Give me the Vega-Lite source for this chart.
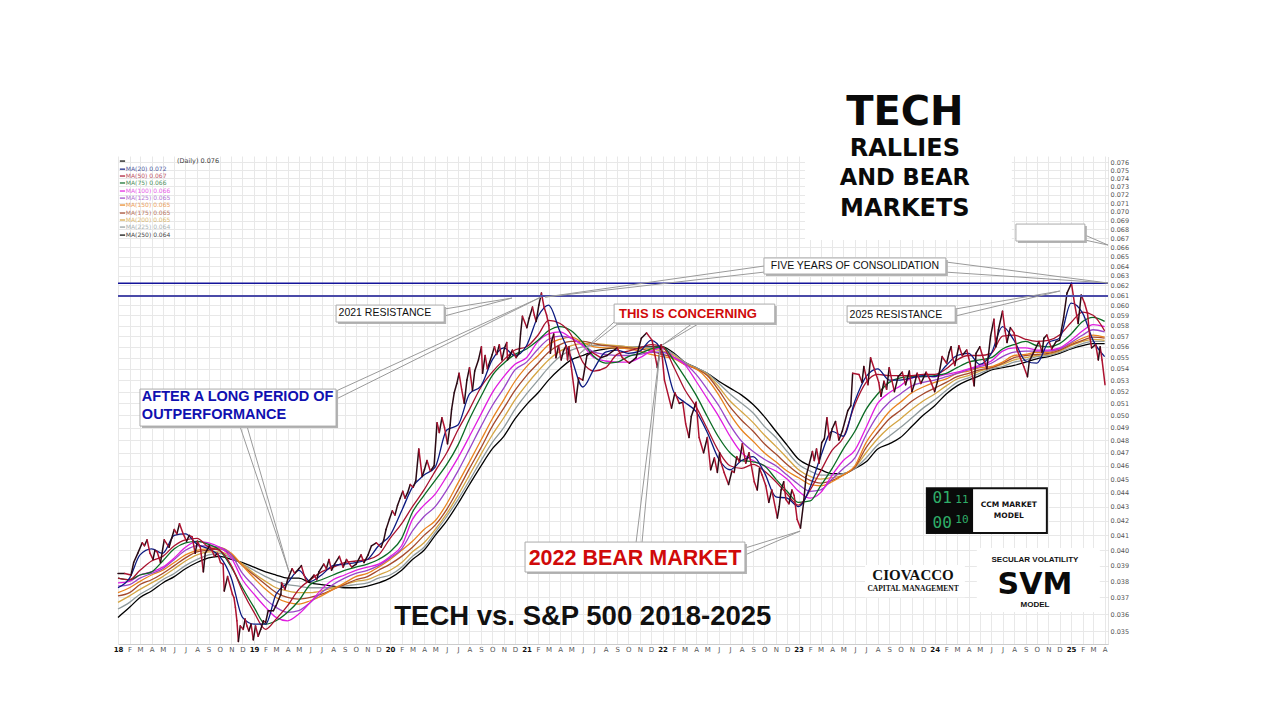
{"$schema":"https://vega.github.io/schema/vega-lite/v6.json","width":990,"height":488,"autosize":{"type":"none"},"padding":{"left":118,"top":156,"right":172,"bottom":76},"background":"white","config":{"view":{"stroke":null},"text":{"font":"Liberation Sans"}},
"datasets":{
"ma":[
{"d":"2018-01-01","MA20":0.0376,"MA50":0.0382,"MA75":0.0382,"MA100":0.0379,"MA125":0.0377,"MA150":0.0373,"MA175":0.0371,"MA200":0.0367,"MA225":0.0363,"MA250":0.0358},
{"d":"2018-02-01","MA20":0.0382,"MA50":0.0381,"MA75":0.0381,"MA100":0.0380,"MA125":0.0378,"MA150":0.0376,"MA175":0.0373,"MA200":0.0371,"MA225":0.0367,"MA250":0.0364},
{"d":"2018-03-01","MA20":0.0397,"MA50":0.0387,"MA75":0.0384,"MA100":0.0384,"MA125":0.0382,"MA150":0.0380,"MA175":0.0378,"MA200":0.0375,"MA225":0.0372,"MA250":0.0370},
{"d":"2018-04-01","MA20":0.0401,"MA50":0.0393,"MA75":0.0386,"MA100":0.0386,"MA125":0.0385,"MA150":0.0384,"MA175":0.0381,"MA200":0.0379,"MA225":0.0376,"MA250":0.0374},
{"d":"2018-05-01","MA20":0.0398,"MA50":0.0396,"MA75":0.0393,"MA100":0.0389,"MA125":0.0388,"MA150":0.0387,"MA175":0.0385,"MA200":0.0383,"MA225":0.0381,"MA250":0.0379},
{"d":"2018-06-01","MA20":0.0410,"MA50":0.0403,"MA75":0.0401,"MA100":0.0395,"MA125":0.0394,"MA150":0.0392,"MA175":0.0390,"MA200":0.0388,"MA225":0.0385,"MA250":0.0383},
{"d":"2018-07-01","MA20":0.0411,"MA50":0.0407,"MA75":0.0405,"MA100":0.0402,"MA125":0.0400,"MA150":0.0397,"MA175":0.0395,"MA200":0.0393,"MA225":0.0390,"MA250":0.0388},
{"d":"2018-08-01","MA20":0.0404,"MA50":0.0408,"MA75":0.0406,"MA100":0.0406,"MA125":0.0403,"MA150":0.0400,"MA175":0.0399,"MA200":0.0397,"MA225":0.0394,"MA250":0.0392},
{"d":"2018-09-01","MA20":0.0401,"MA50":0.0402,"MA75":0.0404,"MA100":0.0405,"MA125":0.0403,"MA150":0.0401,"MA175":0.0400,"MA200":0.0399,"MA225":0.0397,"MA250":0.0395},
{"d":"2018-10-01","MA20":0.0396,"MA50":0.0400,"MA75":0.0400,"MA100":0.0402,"MA125":0.0402,"MA150":0.0402,"MA175":0.0401,"MA200":0.0399,"MA225":0.0398,"MA250":0.0396},
{"d":"2018-11-01","MA20":0.0382,"MA50":0.0390,"MA75":0.0389,"MA100":0.0395,"MA125":0.0397,"MA150":0.0398,"MA175":0.0397,"MA200":0.0396,"MA225":0.0395,"MA250":0.0394},
{"d":"2018-12-01","MA20":0.0358,"MA50":0.0374,"MA75":0.0376,"MA100":0.0381,"MA125":0.0385,"MA150":0.0390,"MA175":0.0390,"MA200":0.0391,"MA225":0.0391,"MA250":0.0392},
{"d":"2019-01-01","MA20":0.0354,"MA50":0.0361,"MA75":0.0364,"MA100":0.0372,"MA125":0.0377,"MA150":0.0382,"MA175":0.0384,"MA200":0.0385,"MA225":0.0387,"MA250":0.0389},
{"d":"2019-02-01","MA20":0.0354,"MA50":0.0351,"MA75":0.0354,"MA100":0.0364,"MA125":0.0369,"MA150":0.0375,"MA175":0.0378,"MA200":0.0380,"MA225":0.0383,"MA250":0.0386},
{"d":"2019-03-01","MA20":0.0372,"MA50":0.0357,"MA75":0.0356,"MA100":0.0358,"MA125":0.0364,"MA150":0.0370,"MA175":0.0373,"MA200":0.0376,"MA225":0.0380,"MA250":0.0384},
{"d":"2019-04-01","MA20":0.0379,"MA50":0.0365,"MA75":0.0361,"MA100":0.0356,"MA125":0.0361,"MA150":0.0367,"MA175":0.0370,"MA200":0.0374,"MA225":0.0378,"MA250":0.0382},
{"d":"2019-05-01","MA20":0.0387,"MA50":0.0375,"MA75":0.0368,"MA100":0.0360,"MA125":0.0362,"MA150":0.0366,"MA175":0.0369,"MA200":0.0373,"MA225":0.0377,"MA250":0.0382},
{"d":"2019-06-01","MA20":0.0380,"MA50":0.0381,"MA75":0.0378,"MA100":0.0367,"MA125":0.0367,"MA150":0.0368,"MA175":0.0370,"MA200":0.0373,"MA225":0.0376,"MA250":0.0379},
{"d":"2019-07-01","MA20":0.0384,"MA50":0.0386,"MA75":0.0381,"MA100":0.0375,"MA125":0.0373,"MA150":0.0371,"MA175":0.0372,"MA200":0.0374,"MA225":0.0376,"MA250":0.0378},
{"d":"2019-08-01","MA20":0.0390,"MA50":0.0389,"MA75":0.0384,"MA100":0.0381,"MA125":0.0378,"MA150":0.0375,"MA175":0.0375,"MA200":0.0376,"MA225":0.0376,"MA250":0.0377},
{"d":"2019-09-01","MA20":0.0391,"MA50":0.0392,"MA75":0.0387,"MA100":0.0384,"MA125":0.0382,"MA150":0.0379,"MA175":0.0378,"MA200":0.0378,"MA225":0.0377,"MA250":0.0376},
{"d":"2019-10-01","MA20":0.0392,"MA50":0.0393,"MA75":0.0389,"MA100":0.0387,"MA125":0.0385,"MA150":0.0383,"MA175":0.0381,"MA200":0.0380,"MA225":0.0378,"MA250":0.0376},
{"d":"2019-11-01","MA20":0.0394,"MA50":0.0394,"MA75":0.0391,"MA100":0.0389,"MA125":0.0387,"MA150":0.0385,"MA175":0.0383,"MA200":0.0381,"MA225":0.0379,"MA250":0.0377},
{"d":"2019-12-01","MA20":0.0403,"MA50":0.0397,"MA75":0.0394,"MA100":0.0391,"MA125":0.0390,"MA150":0.0389,"MA175":0.0387,"MA200":0.0384,"MA225":0.0382,"MA250":0.0379},
{"d":"2020-01-01","MA20":0.0410,"MA50":0.0408,"MA75":0.0399,"MA100":0.0396,"MA125":0.0395,"MA150":0.0394,"MA175":0.0391,"MA200":0.0387,"MA225":0.0384,"MA250":0.0382},
{"d":"2020-02-01","MA20":0.0427,"MA50":0.0418,"MA75":0.0408,"MA100":0.0403,"MA125":0.0401,"MA150":0.0400,"MA175":0.0396,"MA200":0.0392,"MA225":0.0389,"MA250":0.0387},
{"d":"2020-03-01","MA20":0.0444,"MA50":0.0430,"MA75":0.0426,"MA100":0.0421,"MA125":0.0413,"MA150":0.0406,"MA175":0.0402,"MA200":0.0399,"MA225":0.0396,"MA250":0.0394},
{"d":"2020-04-01","MA20":0.0453,"MA50":0.0442,"MA75":0.0438,"MA100":0.0431,"MA125":0.0423,"MA150":0.0414,"MA175":0.0410,"MA200":0.0405,"MA225":0.0402,"MA250":0.0400},
{"d":"2020-05-01","MA20":0.0459,"MA50":0.0456,"MA75":0.0449,"MA100":0.0439,"MA125":0.0430,"MA150":0.0420,"MA175":0.0417,"MA200":0.0414,"MA225":0.0412,"MA250":0.0410},
{"d":"2020-06-01","MA20":0.0488,"MA50":0.0470,"MA75":0.0461,"MA100":0.0452,"MA125":0.0442,"MA150":0.0432,"MA175":0.0428,"MA200":0.0425,"MA225":0.0423,"MA250":0.0420},
{"d":"2020-07-01","MA20":0.0492,"MA50":0.0488,"MA75":0.0476,"MA100":0.0466,"MA125":0.0456,"MA150":0.0447,"MA175":0.0442,"MA200":0.0438,"MA225":0.0435,"MA250":0.0432},
{"d":"2020-08-01","MA20":0.0518,"MA50":0.0505,"MA75":0.0497,"MA100":0.0483,"MA125":0.0473,"MA150":0.0463,"MA175":0.0458,"MA200":0.0453,"MA225":0.0449,"MA250":0.0446},
{"d":"2020-09-01","MA20":0.0525,"MA50":0.0524,"MA75":0.0516,"MA100":0.0501,"MA125":0.0491,"MA150":0.0480,"MA175":0.0474,"MA200":0.0469,"MA225":0.0464,"MA250":0.0460},
{"d":"2020-10-01","MA20":0.0548,"MA50":0.0537,"MA75":0.0534,"MA100":0.0519,"MA125":0.0508,"MA150":0.0497,"MA175":0.0491,"MA200":0.0484,"MA225":0.0478,"MA250":0.0473},
{"d":"2020-11-01","MA20":0.0559,"MA50":0.0548,"MA75":0.0545,"MA100":0.0533,"MA125":0.0523,"MA150":0.0513,"MA175":0.0506,"MA200":0.0498,"MA225":0.0490,"MA250":0.0483},
{"d":"2020-12-01","MA20":0.0552,"MA50":0.0557,"MA75":0.0553,"MA100":0.0544,"MA125":0.0539,"MA150":0.0529,"MA175":0.0521,"MA200":0.0513,"MA225":0.0505,"MA250":0.0497},
{"d":"2021-01-01","MA20":0.0561,"MA50":0.0560,"MA75":0.0558,"MA100":0.0550,"MA125":0.0546,"MA150":0.0542,"MA175":0.0534,"MA200":0.0526,"MA225":0.0518,"MA250":0.0509},
{"d":"2021-02-01","MA20":0.0589,"MA50":0.0571,"MA75":0.0566,"MA100":0.0565,"MA125":0.0558,"MA150":0.0552,"MA175":0.0545,"MA200":0.0538,"MA225":0.0530,"MA250":0.0519},
{"d":"2021-03-01","MA20":0.0600,"MA50":0.0585,"MA75":0.0575,"MA100":0.0572,"MA125":0.0567,"MA150":0.0562,"MA175":0.0555,"MA200":0.0548,"MA225":0.0541,"MA250":0.0530},
{"d":"2021-04-01","MA20":0.0574,"MA50":0.0582,"MA75":0.0579,"MA100":0.0574,"MA125":0.0570,"MA150":0.0567,"MA175":0.0562,"MA200":0.0556,"MA225":0.0551,"MA250":0.0540},
{"d":"2021-05-01","MA20":0.0550,"MA50":0.0571,"MA75":0.0575,"MA100":0.0568,"MA125":0.0568,"MA150":0.0569,"MA175":0.0565,"MA200":0.0561,"MA225":0.0557,"MA250":0.0548},
{"d":"2021-06-01","MA20":0.0524,"MA50":0.0546,"MA75":0.0564,"MA100":0.0561,"MA125":0.0562,"MA150":0.0564,"MA175":0.0565,"MA200":0.0563,"MA225":0.0560,"MA250":0.0552},
{"d":"2021-07-01","MA20":0.0540,"MA50":0.0538,"MA75":0.0551,"MA100":0.0550,"MA125":0.0555,"MA150":0.0560,"MA175":0.0563,"MA200":0.0563,"MA225":0.0561,"MA250":0.0556},
{"d":"2021-08-01","MA20":0.0555,"MA50":0.0541,"MA75":0.0545,"MA100":0.0547,"MA125":0.0553,"MA150":0.0559,"MA175":0.0561,"MA200":0.0562,"MA225":0.0561,"MA250":0.0558},
{"d":"2021-09-01","MA20":0.0557,"MA50":0.0553,"MA75":0.0546,"MA100":0.0546,"MA125":0.0552,"MA150":0.0559,"MA175":0.0560,"MA200":0.0561,"MA225":0.0561,"MA250":0.0559},
{"d":"2021-10-01","MA20":0.0554,"MA50":0.0556,"MA75":0.0551,"MA100":0.0546,"MA125":0.0552,"MA150":0.0558,"MA175":0.0559,"MA200":0.0560,"MA225":0.0560,"MA250":0.0559},
{"d":"2021-11-01","MA20":0.0556,"MA50":0.0559,"MA75":0.0554,"MA100":0.0550,"MA125":0.0553,"MA150":0.0556,"MA175":0.0558,"MA200":0.0559,"MA225":0.0560,"MA250":0.0560},
{"d":"2021-12-01","MA20":0.0566,"MA50":0.0562,"MA75":0.0558,"MA100":0.0556,"MA125":0.0555,"MA150":0.0553,"MA175":0.0556,"MA200":0.0558,"MA225":0.0559,"MA250":0.0560},
{"d":"2022-01-01","MA20":0.0555,"MA50":0.0560,"MA75":0.0560,"MA100":0.0559,"MA125":0.0555,"MA150":0.0551,"MA175":0.0553,"MA200":0.0556,"MA225":0.0558,"MA250":0.0560},
{"d":"2022-02-01","MA20":0.0519,"MA50":0.0541,"MA75":0.0547,"MA100":0.0550,"MA125":0.0550,"MA150":0.0549,"MA175":0.0550,"MA200":0.0552,"MA225":0.0553,"MA250":0.0554},
{"d":"2022-03-01","MA20":0.0511,"MA50":0.0522,"MA75":0.0533,"MA100":0.0544,"MA125":0.0545,"MA150":0.0544,"MA175":0.0544,"MA200":0.0545,"MA225":0.0546,"MA250":0.0546},
{"d":"2022-04-01","MA20":0.0503,"MA50":0.0507,"MA75":0.0517,"MA100":0.0529,"MA125":0.0535,"MA150":0.0540,"MA175":0.0540,"MA200":0.0540,"MA225":0.0541,"MA250":0.0541},
{"d":"2022-05-01","MA20":0.0486,"MA50":0.0489,"MA75":0.0499,"MA100":0.0514,"MA125":0.0522,"MA150":0.0531,"MA175":0.0534,"MA200":0.0535,"MA225":0.0536,"MA250":0.0536},
{"d":"2022-06-01","MA20":0.0465,"MA50":0.0471,"MA75":0.0482,"MA100":0.0499,"MA125":0.0508,"MA150":0.0517,"MA175":0.0521,"MA200":0.0524,"MA225":0.0527,"MA250":0.0529},
{"d":"2022-07-01","MA20":0.0457,"MA50":0.0460,"MA75":0.0470,"MA100":0.0483,"MA125":0.0492,"MA150":0.0501,"MA175":0.0507,"MA200":0.0512,"MA225":0.0518,"MA250":0.0523},
{"d":"2022-08-01","MA20":0.0464,"MA50":0.0458,"MA75":0.0464,"MA100":0.0470,"MA125":0.0479,"MA150":0.0488,"MA175":0.0496,"MA200":0.0503,"MA225":0.0510,"MA250":0.0517},
{"d":"2022-09-01","MA20":0.0467,"MA50":0.0461,"MA75":0.0463,"MA100":0.0464,"MA125":0.0471,"MA150":0.0479,"MA175":0.0487,"MA200":0.0494,"MA225":0.0502,"MA250":0.0509},
{"d":"2022-10-01","MA20":0.0455,"MA50":0.0456,"MA75":0.0460,"MA100":0.0460,"MA125":0.0465,"MA150":0.0470,"MA175":0.0477,"MA200":0.0484,"MA225":0.0491,"MA250":0.0499},
{"d":"2022-11-01","MA20":0.0437,"MA50":0.0448,"MA75":0.0450,"MA100":0.0456,"MA125":0.0460,"MA150":0.0463,"MA175":0.0469,"MA200":0.0475,"MA225":0.0482,"MA250":0.0487},
{"d":"2022-12-01","MA20":0.0436,"MA50":0.0439,"MA75":0.0441,"MA100":0.0450,"MA125":0.0453,"MA150":0.0456,"MA175":0.0461,"MA200":0.0466,"MA225":0.0471,"MA250":0.0476},
{"d":"2023-01-01","MA20":0.0430,"MA50":0.0431,"MA75":0.0433,"MA100":0.0441,"MA125":0.0446,"MA150":0.0451,"MA175":0.0454,"MA200":0.0457,"MA225":0.0461,"MA250":0.0465},
{"d":"2023-02-01","MA20":0.0444,"MA50":0.0442,"MA75":0.0434,"MA100":0.0436,"MA125":0.0441,"MA150":0.0446,"MA175":0.0449,"MA200":0.0452,"MA225":0.0456,"MA250":0.0460},
{"d":"2023-03-01","MA20":0.0467,"MA50":0.0456,"MA75":0.0445,"MA100":0.0440,"MA125":0.0442,"MA150":0.0445,"MA175":0.0447,"MA200":0.0450,"MA225":0.0453,"MA250":0.0457},
{"d":"2023-04-01","MA20":0.0487,"MA50":0.0472,"MA75":0.0458,"MA100":0.0453,"MA125":0.0450,"MA150":0.0448,"MA175":0.0449,"MA200":0.0451,"MA225":0.0453,"MA250":0.0454},
{"d":"2023-05-01","MA20":0.0483,"MA50":0.0482,"MA75":0.0473,"MA100":0.0464,"MA125":0.0458,"MA150":0.0453,"MA175":0.0453,"MA200":0.0453,"MA225":0.0454,"MA250":0.0454},
{"d":"2023-06-01","MA20":0.0512,"MA50":0.0509,"MA75":0.0487,"MA100":0.0472,"MA125":0.0466,"MA150":0.0460,"MA175":0.0459,"MA200":0.0459,"MA225":0.0458,"MA250":0.0458},
{"d":"2023-07-01","MA20":0.0533,"MA50":0.0528,"MA75":0.0505,"MA100":0.0490,"MA125":0.0484,"MA150":0.0478,"MA175":0.0474,"MA200":0.0470,"MA225":0.0466,"MA250":0.0463},
{"d":"2023-08-01","MA20":0.0540,"MA50":0.0535,"MA75":0.0518,"MA100":0.0510,"MA125":0.0500,"MA150":0.0491,"MA175":0.0486,"MA200":0.0481,"MA225":0.0476,"MA250":0.0473},
{"d":"2023-09-01","MA20":0.0530,"MA50":0.0534,"MA75":0.0528,"MA100":0.0519,"MA125":0.0511,"MA150":0.0503,"MA175":0.0497,"MA200":0.0490,"MA225":0.0483,"MA250":0.0477},
{"d":"2023-10-01","MA20":0.0530,"MA50":0.0534,"MA75":0.0532,"MA100":0.0525,"MA125":0.0518,"MA150":0.0511,"MA175":0.0504,"MA200":0.0497,"MA225":0.0490,"MA250":0.0482},
{"d":"2023-11-01","MA20":0.0532,"MA50":0.0534,"MA75":0.0533,"MA100":0.0532,"MA125":0.0525,"MA150":0.0519,"MA175":0.0512,"MA200":0.0505,"MA225":0.0498,"MA250":0.0491},
{"d":"2023-12-01","MA20":0.0534,"MA50":0.0535,"MA75":0.0533,"MA100":0.0533,"MA125":0.0528,"MA150":0.0524,"MA175":0.0518,"MA200":0.0512,"MA225":0.0506,"MA250":0.0500},
{"d":"2024-01-01","MA20":0.0533,"MA50":0.0535,"MA75":0.0534,"MA100":0.0533,"MA125":0.0530,"MA150":0.0528,"MA175":0.0523,"MA200":0.0518,"MA225":0.0513,"MA250":0.0508},
{"d":"2024-02-01","MA20":0.0543,"MA50":0.0540,"MA75":0.0536,"MA100":0.0535,"MA125":0.0533,"MA150":0.0531,"MA175":0.0528,"MA200":0.0525,"MA225":0.0521,"MA250":0.0518},
{"d":"2024-03-01","MA20":0.0552,"MA50":0.0548,"MA75":0.0541,"MA100":0.0537,"MA125":0.0536,"MA150":0.0536,"MA175":0.0533,"MA200":0.0531,"MA225":0.0528,"MA250":0.0525},
{"d":"2024-04-01","MA20":0.0554,"MA50":0.0552,"MA75":0.0546,"MA100":0.0540,"MA125":0.0539,"MA150":0.0538,"MA175":0.0536,"MA200":0.0534,"MA225":0.0532,"MA250":0.0530},
{"d":"2024-05-01","MA20":0.0544,"MA50":0.0552,"MA75":0.0548,"MA100":0.0543,"MA125":0.0542,"MA150":0.0541,"MA175":0.0539,"MA200":0.0538,"MA225":0.0536,"MA250":0.0534},
{"d":"2024-06-01","MA20":0.0554,"MA50":0.0554,"MA75":0.0550,"MA100":0.0547,"MA125":0.0545,"MA150":0.0542,"MA175":0.0541,"MA200":0.0541,"MA225":0.0540,"MA250":0.0539},
{"d":"2024-07-01","MA20":0.0579,"MA50":0.0570,"MA75":0.0558,"MA100":0.0556,"MA125":0.0551,"MA150":0.0546,"MA175":0.0545,"MA200":0.0544,"MA225":0.0542,"MA250":0.0541},
{"d":"2024-08-01","MA20":0.0566,"MA50":0.0571,"MA75":0.0562,"MA100":0.0559,"MA125":0.0555,"MA150":0.0552,"MA175":0.0550,"MA200":0.0548,"MA225":0.0546,"MA250":0.0543},
{"d":"2024-09-01","MA20":0.0547,"MA50":0.0567,"MA75":0.0565,"MA100":0.0559,"MA125":0.0556,"MA150":0.0553,"MA175":0.0552,"MA200":0.0550,"MA225":0.0548,"MA250":0.0546},
{"d":"2024-10-01","MA20":0.0545,"MA50":0.0565,"MA75":0.0561,"MA100":0.0557,"MA125":0.0556,"MA150":0.0555,"MA175":0.0553,"MA200":0.0552,"MA225":0.0551,"MA250":0.0549},
{"d":"2024-11-01","MA20":0.0564,"MA50":0.0566,"MA75":0.0560,"MA100":0.0557,"MA125":0.0556,"MA150":0.0555,"MA175":0.0554,"MA200":0.0553,"MA225":0.0552,"MA250":0.0551},
{"d":"2024-12-01","MA20":0.0568,"MA50":0.0571,"MA75":0.0563,"MA100":0.0559,"MA125":0.0558,"MA150":0.0558,"MA175":0.0557,"MA200":0.0556,"MA225":0.0555,"MA250":0.0554},
{"d":"2025-01-01","MA20":0.0602,"MA50":0.0583,"MA75":0.0572,"MA100":0.0566,"MA125":0.0564,"MA150":0.0563,"MA175":0.0562,"MA200":0.0561,"MA225":0.0559,"MA250":0.0558},
{"d":"2025-02-01","MA20":0.0592,"MA50":0.0593,"MA75":0.0584,"MA100":0.0575,"MA125":0.0571,"MA150":0.0568,"MA175":0.0566,"MA200":0.0565,"MA225":0.0563,"MA250":0.0561},
{"d":"2025-03-01","MA20":0.0566,"MA50":0.0590,"MA75":0.0588,"MA100":0.0581,"MA125":0.0576,"MA150":0.0571,"MA175":0.0569,"MA200":0.0567,"MA225":0.0565,"MA250":0.0563},
{"d":"2025-04-01","MA20":0.0551,"MA50":0.0575,"MA75":0.0584,"MA100":0.0579,"MA125":0.0574,"MA150":0.0569,"MA175":0.0568,"MA200":0.0566,"MA225":0.0565,"MA250":0.0563}
],
"daily":[
{"d":"2018-01-01","v":0.0385},{"d":"2018-01-19","v":0.0385},{"d":"2018-02-05","v":0.0384},{"d":"2018-02-12","v":0.0392},{"d":"2018-02-23","v":0.0398},{"d":"2018-03-07","v":0.0405},{"d":"2018-03-20","v":0.0407},{"d":"2018-03-28","v":0.0398},{"d":"2018-04-16","v":0.0399},{"d":"2018-04-25","v":0.0392},{"d":"2018-05-05","v":0.0407},{"d":"2018-05-18","v":0.0402},{"d":"2018-06-01","v":0.0414},{"d":"2018-06-15","v":0.0418},{"d":"2018-06-25","v":0.0411},{"d":"2018-07-04","v":0.0406},{"d":"2018-07-19","v":0.0409},{"d":"2018-07-27","v":0.0398},{"d":"2018-08-02","v":0.0406},{"d":"2018-08-10","v":0.0402},{"d":"2018-08-18","v":0.0386},{"d":"2018-08-23","v":0.0398},{"d":"2018-09-10","v":0.0400},{"d":"2018-09-25","v":0.0398},{"d":"2018-10-03","v":0.0392},{"d":"2018-10-10","v":0.0391},{"d":"2018-10-13","v":0.0374},{"d":"2018-10-22","v":0.0383},{"d":"2018-11-04","v":0.0372},{"d":"2018-11-12","v":0.0364},{"d":"2018-11-20","v":0.0344},{"d":"2018-11-25","v":0.0353},{"d":"2018-12-08","v":0.0357},{"d":"2018-12-18","v":0.0350},{"d":"2018-12-30","v":0.0345},{"d":"2019-01-05","v":0.0353},{"d":"2019-01-19","v":0.0351},{"d":"2019-02-01","v":0.0355},{"d":"2019-02-08","v":0.0362},{"d":"2019-02-22","v":0.0362},{"d":"2019-03-14","v":0.0372},{"d":"2019-03-16","v":0.0379},{"d":"2019-04-01","v":0.0381},{"d":"2019-04-13","v":0.0388},{"d":"2019-05-01","v":0.0388},{"d":"2019-05-15","v":0.0384},{"d":"2019-05-28","v":0.0380},{"d":"2019-06-11","v":0.0384},{"d":"2019-06-24","v":0.0386},{"d":"2019-07-07","v":0.0391},{"d":"2019-07-21","v":0.0394},{"d":"2019-07-28","v":0.0387},{"d":"2019-08-18","v":0.0396},{"d":"2019-09-06","v":0.0394},{"d":"2019-10-02","v":0.0391},{"d":"2019-10-15","v":0.0397},{"d":"2019-10-23","v":0.0392},{"d":"2019-11-12","v":0.0403},{"d":"2019-11-25","v":0.0405},{"d":"2019-12-08","v":0.0402},{"d":"2019-12-21","v":0.0414},{"d":"2019-12-30","v":0.0421},{"d":"2020-01-07","v":0.0427},{"d":"2020-01-21","v":0.0431},{"d":"2020-02-04","v":0.0441},{"d":"2020-02-17","v":0.0440},{"d":"2020-03-10","v":0.0449},{"d":"2020-03-18","v":0.0473},{"d":"2020-03-27","v":0.0452},{"d":"2020-04-09","v":0.0464},{"d":"2020-04-28","v":0.0460},{"d":"2020-05-06","v":0.0494},{"d":"2020-05-19","v":0.0498},{"d":"2020-06-03","v":0.0477},{"d":"2020-06-21","v":0.0519},{"d":"2020-07-04","v":0.0536},{"d":"2020-07-18","v":0.0510},{"d":"2020-08-01","v":0.0541},{"d":"2020-08-09","v":0.0521},{"d":"2020-09-02","v":0.0560},{"d":"2020-09-05","v":0.0536},{"d":"2020-09-24","v":0.0546},{"d":"2020-10-07","v":0.0560},{"d":"2020-10-20","v":0.0562},{"d":"2020-11-09","v":0.0564},{"d":"2020-11-11","v":0.0548},{"d":"2020-11-24","v":0.0557},{"d":"2020-12-12","v":0.0554},{"d":"2020-12-21","v":0.0589},{"d":"2021-01-02","v":0.0578},{"d":"2021-01-17","v":0.0598},{"d":"2021-01-27","v":0.0584},{"d":"2021-02-10","v":0.0612},{"d":"2021-02-24","v":0.0590},{"d":"2021-03-02","v":0.0580},{"d":"2021-03-06","v":0.0554},{"d":"2021-03-21","v":0.0550},{"d":"2021-03-28","v":0.0561},{"d":"2021-04-04","v":0.0548},{"d":"2021-04-17","v":0.0561},{"d":"2021-04-25","v":0.0560},{"d":"2021-05-01","v":0.0542},{"d":"2021-05-13","v":0.0511},{"d":"2021-05-21","v":0.0532},{"d":"2021-06-01","v":0.0530},{"d":"2021-06-12","v":0.0552},{"d":"2021-06-25","v":0.0555},{"d":"2021-07-19","v":0.0550},{"d":"2021-08-05","v":0.0552},{"d":"2021-09-01","v":0.0559},{"d":"2021-09-15","v":0.0550},{"d":"2021-10-04","v":0.0545},{"d":"2021-10-22","v":0.0550},{"d":"2021-11-05","v":0.0568},{"d":"2021-11-19","v":0.0573},{"d":"2021-12-04","v":0.0566},{"d":"2021-12-18","v":0.0541},{"d":"2021-12-28","v":0.0562},{"d":"2022-01-06","v":0.0530},{"d":"2022-01-25","v":0.0506},{"d":"2022-02-03","v":0.0519},{"d":"2022-02-15","v":0.0510},{"d":"2022-02-24","v":0.0511},{"d":"2022-03-04","v":0.0493},{"d":"2022-03-13","v":0.0482},{"d":"2022-03-19","v":0.0499},{"d":"2022-04-01","v":0.0511},{"d":"2022-04-09","v":0.0482},{"d":"2022-04-21","v":0.0470},{"d":"2022-05-01","v":0.0482},{"d":"2022-05-10","v":0.0457},{"d":"2022-06-06","v":0.0463},{"d":"2022-06-15","v":0.0455},{"d":"2022-06-27","v":0.0446},{"d":"2022-07-06","v":0.0456},{"d":"2022-07-19","v":0.0467},{"d":"2022-08-03","v":0.0477},{"d":"2022-08-21","v":0.0470},{"d":"2022-09-04","v":0.0448},{"d":"2022-09-25","v":0.0453},{"d":"2022-10-13","v":0.0433},{"d":"2022-10-21","v":0.0442},{"d":"2022-11-05","v":0.0422},{"d":"2022-11-15","v":0.0442},{"d":"2022-11-28","v":0.0435},{"d":"2022-12-14","v":0.0442},{"d":"2022-12-28","v":0.0421},{"d":"2023-01-06","v":0.0415},{"d":"2023-01-21","v":0.0452},{"d":"2023-02-07","v":0.0471},{"d":"2023-02-18","v":0.0473},{"d":"2023-03-04","v":0.0478},{"d":"2023-03-18","v":0.0498},{"d":"2023-04-01","v":0.0489},{"d":"2023-04-19","v":0.0480},{"d":"2023-05-13","v":0.0504},{"d":"2023-05-21","v":0.0508},{"d":"2023-05-26","v":0.0536},{"d":"2023-06-12","v":0.0535},{"d":"2023-07-01","v":0.0533},{"d":"2023-07-13","v":0.0550},{"d":"2023-07-28","v":0.0535},{"d":"2023-08-10","v":0.0516},{"d":"2023-08-18","v":0.0529},{"d":"2023-09-01","v":0.0541},{"d":"2023-09-15","v":0.0520},{"d":"2023-10-06","v":0.0537},{"d":"2023-11-01","v":0.0520},{"d":"2023-11-15","v":0.0536},{"d":"2023-12-09","v":0.0537},{"d":"2024-01-01","v":0.0520},{"d":"2024-01-13","v":0.0536},{"d":"2024-01-21","v":0.0551},{"d":"2024-02-09","v":0.0555},{"d":"2024-02-18","v":0.0550},{"d":"2024-03-06","v":0.0561},{"d":"2024-03-27","v":0.0557},{"d":"2024-04-16","v":0.0525},{"d":"2024-04-21","v":0.0554},{"d":"2024-05-12","v":0.0548},{"d":"2024-06-08","v":0.0586},{"d":"2024-06-13","v":0.0560},{"d":"2024-07-01","v":0.0594},{"d":"2024-07-13","v":0.0564},{"d":"2024-08-01","v":0.0573},{"d":"2024-08-09","v":0.0557},{"d":"2024-08-27","v":0.0542},{"d":"2024-09-06","v":0.0533},{"d":"2024-09-11","v":0.0547},{"d":"2024-10-07","v":0.0565},{"d":"2024-10-28","v":0.0571},{"d":"2024-11-22","v":0.0565},{"d":"2024-12-01","v":0.0566},{"d":"2024-12-12","v":0.0588},{"d":"2024-12-21","v":0.0612},{"d":"2025-01-02","v":0.0622},{"d":"2025-01-10","v":0.0602},{"d":"2025-02-06","v":0.0602},{"d":"2025-02-14","v":0.0592},{"d":"2025-02-25","v":0.0559},{"d":"2025-03-08","v":0.0562},{"d":"2025-03-25","v":0.0548},{"d":"2025-04-02","v":0.0526},
{"d":"2018-03-13","v":0.0403},{"d":"2018-04-05","v":0.0394},{"d":"2018-04-10","v":0.0400},{"d":"2018-05-25","v":0.0408},{"d":"2018-06-08","v":0.0411},{"d":"2018-07-11","v":0.0410},{"d":"2018-09-03","v":0.0403},{"d":"2018-09-17","v":0.0396},{"d":"2018-11-08","v":0.0370},{"d":"2018-11-16","v":0.0356},{"d":"2018-12-03","v":0.0351},{"d":"2018-12-13","v":0.0353},{"d":"2018-12-24","v":0.0354},
{"d":"2019-01-12","v":0.0347},{"d":"2019-01-26","v":0.0356},{"d":"2019-03-01","v":0.0365},{"d":"2019-03-25","v":0.0375},{"d":"2019-04-20","v":0.0385},{"d":"2019-05-08","v":0.0390},{"d":"2019-05-22","v":0.0380},{"d":"2019-06-18","v":0.0381},{"d":"2019-07-14","v":0.0388},{"d":"2019-08-05","v":0.0391},{"d":"2019-08-28","v":0.0389},{"d":"2019-09-20","v":0.0389},{"d":"2019-11-03","v":0.0397},{"d":"2019-12-15","v":0.0407},
{"d":"2020-01-14","v":0.0424},{"d":"2020-01-28","v":0.0436},{"d":"2020-02-10","v":0.0436},{"d":"2020-02-24","v":0.0446},{"d":"2020-03-03","v":0.0444},{"d":"2020-04-02","v":0.0457},{"d":"2020-04-18","v":0.0456},{"d":"2020-05-12","v":0.0486},{"d":"2020-05-26","v":0.0490},{"d":"2020-06-10","v":0.0492},{"d":"2020-06-14","v":0.0505},{"d":"2020-06-28","v":0.0527},{"d":"2020-07-11","v":0.0522},{"d":"2020-07-25","v":0.0530},{"d":"2020-08-15","v":0.0538},{"d":"2020-08-25","v":0.0548},{"d":"2020-09-12","v":0.0552},{"d":"2020-09-18","v":0.0540},{"d":"2020-10-01","v":0.0553},{"d":"2020-10-13","v":0.0553},{"d":"2020-10-27","v":0.0548},{"d":"2020-11-03","v":0.0559},{"d":"2020-11-18","v":0.0552},{"d":"2020-12-04","v":0.0550},{"d":"2020-12-16","v":0.0572},
{"d":"2021-01-08","v":0.0587},{"d":"2021-01-22","v":0.0590},{"d":"2021-02-03","v":0.0600},{"d":"2021-02-17","v":0.0598},{"d":"2021-03-10","v":0.0566},{"d":"2021-03-15","v":0.0572},{"d":"2021-04-10","v":0.0556},{"d":"2021-04-21","v":0.0548},
{"d":"2022-05-20","v":0.0466},{"d":"2022-05-28","v":0.0455},{"d":"2022-06-03","v":0.0470},{"d":"2022-07-12","v":0.0455},{"d":"2022-07-26","v":0.0463},{"d":"2022-08-12","v":0.0462},{"d":"2022-09-12","v":0.0442},{"d":"2022-09-18","v":0.0458},{"d":"2022-10-05","v":0.0445},{"d":"2022-11-10","v":0.0430},{"d":"2022-11-22","v":0.0448},{"d":"2022-12-06","v":0.0432},{"d":"2022-12-20","v":0.0438},
{"d":"2023-01-14","v":0.0432},{"d":"2023-02-12","v":0.0464},{"d":"2023-02-25","v":0.0462},{"d":"2023-03-11","v":0.0481},{"d":"2023-03-25","v":0.0480},{"d":"2023-04-10","v":0.0495},{"d":"2023-04-28","v":0.0487},{"d":"2023-06-20","v":0.0528},{"d":"2023-06-25","v":0.0542},{"d":"2023-07-06","v":0.0526},{"d":"2023-08-04","v":0.0528},{"d":"2023-08-25","v":0.0522},{"d":"2023-09-08","v":0.0530},{"d":"2023-09-25","v":0.0533},{"d":"2023-10-15","v":0.0526},{"d":"2023-10-25","v":0.0538},{"d":"2023-11-08","v":0.0527},{"d":"2023-11-25","v":0.0527},{"d":"2023-12-20","v":0.0530},
{"d":"2024-01-08","v":0.0528},{"d":"2024-02-02","v":0.0545},{"d":"2024-02-14","v":0.0560},{"d":"2024-02-24","v":0.0543},{"d":"2024-03-15","v":0.0552},{"d":"2024-04-05","v":0.0545},{"d":"2024-05-01","v":0.0560},{"d":"2024-05-20","v":0.0540},{"d":"2024-05-30","v":0.0570},{"d":"2024-06-20","v":0.0576},{"d":"2024-07-08","v":0.0575},{"d":"2024-07-22","v":0.0578},{"d":"2024-10-15","v":0.0555},{"d":"2024-10-20","v":0.0568},{"d":"2024-11-10","v":0.0558},{"d":"2025-01-20","v":0.0582},{"d":"2025-01-28","v":0.0610},{"d":"2025-02-20","v":0.0570},{"d":"2025-03-15","v":0.0548},{"d":"2025-03-20","v":0.0560}
],
"legend":[
{"a":"2018-01-06","b":"2018-01-20","c":"2018-01-22","s":"MA250","t":"","v":0.07613},
{"a":"2018-01-06","b":"2018-01-20","c":"2018-01-22","s":"MA20","t":"MA(20) 0.072","v":0.07512},
{"a":"2018-01-06","b":"2018-01-20","c":"2018-01-22","s":"MA50","t":"MA(50) 0.067","v":0.07427},
{"a":"2018-01-06","b":"2018-01-20","c":"2018-01-22","s":"MA75","t":"MA(75) 0.066","v":0.07342},
{"a":"2018-01-06","b":"2018-01-20","c":"2018-01-22","s":"MA100","t":"MA(100) 0.066","v":0.07245},
{"a":"2018-01-06","b":"2018-01-20","c":"2018-01-22","s":"MA125","t":"MA(125) 0.065","v":0.07161},
{"a":"2018-01-06","b":"2018-01-20","c":"2018-01-22","s":"MA150","t":"MA(150) 0.065","v":0.07079},
{"a":"2018-01-06","b":"2018-01-20","c":"2018-01-22","s":"MA175","t":"MA(175) 0.065","v":0.06986},
{"a":"2018-01-06","b":"2018-01-20","c":"2018-01-22","s":"MA200","t":"MA(200) 0.065","v":0.06906},
{"a":"2018-01-06","b":"2018-01-20","c":"2018-01-22","s":"MA225","t":"MA(225) 0.064","v":0.06826},
{"a":"2018-01-06","b":"2018-01-20","c":"2018-01-22","s":"MA250","t":"MA(250) 0.064","v":0.06736}
],
"leaders":[
{"a":"2019-08-09","b":"2021-02-09","p":0.05205,"q":0.0608},
{"a":"2019-08-09","b":"2021-02-09","p":0.05136,"q":0.0608},
{"a":"2018-11-24","b":"2019-04-05","p":0.04912,"q":0.03859},
{"a":"2018-12-13","b":"2019-04-05","p":0.04912,"q":0.03859},
{"a":"2020-05-25","b":"2020-11-23","p":0.05961,"q":0.0607},
{"a":"2020-05-25","b":"2020-11-23","p":0.05892,"q":0.0607},
{"a":"2022-09-30","b":"2021-02-20","p":0.06336,"q":0.0608},
{"a":"2022-09-30","b":"2021-02-20","p":0.064,"q":0.0608},
{"a":"2024-01-31","b":"2025-04-10","p":0.06336,"q":0.06223},
{"a":"2024-01-31","b":"2025-04-10","p":0.06443,"q":0.06223},
{"a":"2024-02-25","b":"2024-12-02","p":0.05961,"q":0.06141},
{"a":"2024-02-25","b":"2024-12-02","p":0.05892,"q":0.06141},
{"a":"2021-08-24","b":"2021-05-19","p":0.05834,"q":0.05524},
{"a":"2021-09-09","b":"2021-05-19","p":0.05834,"q":0.05524},
{"a":"2022-03-24","b":"2021-12-31","p":0.05825,"q":0.05616},
{"a":"2022-04-11","b":"2021-12-31","p":0.05825,"q":0.05616},
{"a":"2021-10-22","b":"2021-12-25","p":0.04055,"q":0.0557},
{"a":"2021-11-07","b":"2021-12-25","p":0.04055,"q":0.0557},
{"a":"2022-08-10","b":"2023-01-05","p":0.04015,"q":0.04129},
{"a":"2022-08-10","b":"2023-01-05","p":0.03969,"q":0.04129},
{"a":"2025-02-07","b":"2025-04-10","p":0.06736,"q":0.06626},
{"a":"2025-02-07","b":"2025-04-10","p":0.06681,"q":0.06626}
],
"boxes":[
{"a":"2022-09-30","b":"2024-01-31","p":0.06486,"q":0.06316},
{"a":"2019-08-09","b":"2020-05-25","p":0.06,"q":0.05834},
{"a":"2023-05-11","b":"2024-02-25","p":0.05991,"q":0.05834},
{"a":"2021-08-24","b":"2022-10-29","p":0.0601,"q":0.05825},
{"a":"2018-03-01","b":"2019-08-09","p":0.05222,"q":0.04912},
{"a":"2020-12-28","b":"2022-08-10","p":0.04055,"q":0.03859},
{"a":"2024-08-06","b":"2025-02-07","p":0.0686,"q":0.0667}
],
"plain":[
{"a":"2023-01-18","b":"2024-07-26","p":0.07677,"q":0.06681},
{"a":"2023-06-28","b":"2024-03-22","p":0.03904,"q":0.03702},
{"a":"2024-04-23","b":"2025-03-19","p":0.04015,"q":0.03612}
]
},
"layer":[
{"data":{"name":"ma"},"transform":[{"fold":["MA250","MA225","MA200","MA175","MA150","MA125","MA100","MA75","MA50","MA20"],"as":["s","v"]}],
"mark":{"type":"line","interpolate":"monotone","strokeWidth":1.3},
"encoding":{
"x":{"field":"d","type":"temporal","title":null,"scale":{"type":"time","domain":["2018-01-01","2025-04-10"]},"axis":{"orient":"bottom","tickCount":{"interval":"month","step":1},"labelExpr":"month(datum.value)==0?timeFormat(datum.value,'%y'):substring(timeFormat(datum.value,'%b'),0,1)","labelFontWeight":{"condition":{"test":"month(datum.value)==0","value":"bold"},"value":"normal"},"labelColor":{"condition":{"test":"month(datum.value)==0","value":"#111111"},"value":"#555555"},"labelFontSize":7,"labelFont":"DejaVu Sans","labelPadding":1,"labelOverlap":false,"labelFlush":false,"ticks":false,"grid":true,"gridColor":"#e8e8e8","gridWidth":1,"domainColor":"#cccccc"}},
"y":{"field":"v","type":"quantitative","title":null,"scale":{"type":"log","domain":[0.03426,0.07677],"nice":false},"axis":{"orient":"right","values":[0.035,0.036,0.037,0.038,0.039,0.04,0.041,0.042,0.043,0.044,0.045,0.046,0.047,0.048,0.049,0.05,0.051,0.052,0.053,0.054,0.055,0.056,0.057,0.058,0.059,0.06,0.061,0.062,0.063,0.064,0.065,0.066,0.067,0.068,0.069,0.07,0.071,0.072,0.073,0.074,0.075,0.076],"format":".3f","labelFontSize":6.5,"labelFont":"DejaVu Sans","labelColor":"#555555","labelPadding":2,"labelOverlap":false,"ticks":false,"grid":true,"gridColor":"#e8e8e8","gridWidth":1,"domainColor":"#cccccc","domainDash":[1,1]}},
"color":{"field":"s","type":"nominal","legend":null,"sort":null,"scale":{"domain":["MA20","MA50","MA75","MA100","MA125","MA150","MA175","MA200","MA225","MA250"],"range":["#0c1a80","#a8122e","#0b6b24","#e01ce0","#9a46c8","#e8831f","#a54a2c","#d4a543","#8f9a9c","#000000"]}}}},
{"data":{"name":"daily"},"transform":[{"window":[{"op":"lag","field":"v","as":"pv"},{"op":"lag","field":"d","as":"pd"}],"sort":[{"field":"d","order":"ascending"}]},{"filter":"datum.pv!=null"}],
"mark":{"type":"rule","strokeWidth":1.5,"strokeCap":"round"},
"encoding":{"x":{"field":"pd","type":"temporal"},"x2":{"field":"d"},"y":{"field":"pv","type":"quantitative"},"y2":{"field":"v"},"color":{"condition":{"test":"datum.v>=datum.pv","value":"#2a0a14"},"value":"#ad1230"}}},
{"data":{"values":[{"v":0.0622}]},"mark":{"type":"rule","color":"#14149a","strokeWidth":1.5},"encoding":{"y":{"field":"v","type":"quantitative"}}},
{"data":{"values":[{"v":0.0609}]},"mark":{"type":"rule","color":"#4a4aa8","strokeWidth":2},"encoding":{"y":{"field":"v","type":"quantitative"}}},
{"data":{"name":"leaders"},"mark":{"type":"rule","color":"#9a9a9a","strokeWidth":1},"encoding":{"x":{"field":"a","type":"temporal"},"x2":{"field":"b"},"y":{"field":"p","type":"quantitative"},"y2":{"field":"q"}}},
{"data":{"name":"plain"},"mark":{"type":"rect","color":"#ffffff"},"encoding":{"x":{"field":"a","type":"temporal"},"x2":{"field":"b"},"y":{"field":"p","type":"quantitative"},"y2":{"field":"q"}}},
{"data":{"name":"boxes"},"mark":{"type":"rect","color":"#b4b4b4","xOffset":2,"x2Offset":2,"yOffset":2,"y2Offset":2},"encoding":{"x":{"field":"a","type":"temporal"},"x2":{"field":"b"},"y":{"field":"p","type":"quantitative"},"y2":{"field":"q"}}},
{"data":{"name":"boxes"},"mark":{"type":"rect","fill":"#ffffff","stroke":"#aaaaaa","strokeWidth":1},"encoding":{"x":{"field":"a","type":"temporal"},"x2":{"field":"b"},"y":{"field":"p","type":"quantitative"},"y2":{"field":"q"}}},
{"data":{"values":[{"a":"2023-12-11","b":"2024-10-28","p":0.04433,"q":0.04116}]},"mark":{"type":"rect","fill":"#ffffff","stroke":"#111111","strokeWidth":2},"encoding":{"x":{"field":"a","type":"temporal"},"x2":{"field":"b"},"y":{"field":"p","type":"quantitative"},"y2":{"field":"q"}}},
{"data":{"values":[{"a":"2023-12-11","b":"2024-04-13","p":0.04433,"q":0.04116}]},"mark":{"type":"rect","fill":"#0a0a0a"},"encoding":{"x":{"field":"a","type":"temporal"},"x2":{"field":"b"},"y":{"field":"p","type":"quantitative"},"y2":{"field":"q"}}},
{"data":{"name":"legend"},"mark":{"type":"rule","strokeWidth":1.2},"encoding":{"x":{"field":"a","type":"temporal"},"x2":{"field":"b"},"y":{"field":"v","type":"quantitative"},"color":{"field":"s","type":"nominal","legend":null}}},
{"data":{"name":"legend"},"mark":{"type":"text","align":"left","font":"DejaVu Sans","fontSize":6,"opacity":0.75},"encoding":{"x":{"field":"c","type":"temporal"},"y":{"field":"v","type":"quantitative"},"text":{"field":"t"},"color":{"field":"s","type":"nominal","legend":null}}},
{"data":{"values":[{"d":"2018-06-08","v":0.07613,"t":"(Daily) 0.076"}]},"mark":{"type":"text","align":"left","font":"DejaVu Sans","fontSize":6.5,"color":"#444444"},"encoding":{"x":{"field":"d","type":"temporal"},"y":{"field":"v","type":"quantitative"},"text":{"field":"t"}}},
{"data":{"values":[{"d":"2023-06-01","v":0.064,"t":"FIVE YEARS OF CONSOLIDATION"},{"d":"2019-12-18","v":0.05917,"t":"2021 RESISTANCE"},{"d":"2023-09-19","v":0.05906,"t":"2025 RESISTANCE"}]},"mark":{"type":"text","font":"Liberation Sans","fontSize":10.5,"color":"#111111"},"encoding":{"x":{"field":"d","type":"temporal"},"y":{"field":"v","type":"quantitative"},"text":{"field":"t"}}},
{"data":{"values":[{"d":"2022-03-10","v":0.0591,"t":"THIS IS CONCERNING"}]},"mark":{"type":"text","font":"Liberation Sans","fontWeight":"bold","fontSize":13,"color":"#d00a0a"},"encoding":{"x":{"field":"d","type":"temporal"},"y":{"field":"v","type":"quantitative"},"text":{"field":"t"}}},
{"data":{"values":[{"d":"2018-03-06","v":0.05153,"t":"AFTER A LONG PERIOD OF"},{"d":"2018-03-06","v":0.05002,"t":"OUTPERFORMANCE"}]},"mark":{"type":"text","align":"left","font":"Liberation Sans","fontWeight":"bold","fontSize":14.5,"color":"#1010b0"},"encoding":{"x":{"field":"d","type":"temporal"},"y":{"field":"v","type":"quantitative"},"text":{"field":"t"}}},
{"data":{"values":[{"d":"2021-10-19","v":0.03956,"t":"2022 BEAR MARKET"}]},"mark":{"type":"text","dy":2,"font":"Liberation Sans","fontWeight":"bold","fontSize":21.5,"color":"#d00a0a"},"encoding":{"x":{"field":"d","type":"temporal"},"y":{"field":"v","type":"quantitative"},"text":{"field":"t"}}},
{"data":{"values":[{"d":"2021-06-01","v":0.03594,"t":"TECH vs. S&P 500 2018-2025"}]},"mark":{"type":"text","dy":2,"font":"Liberation Sans","fontWeight":"bold","fontSize":27.5,"color":"#111111"},"encoding":{"x":{"field":"d","type":"temporal"},"y":{"field":"v","type":"quantitative"},"text":{"field":"t"}}},
{"data":{"values":[{"d":"2023-10-13","v":0.08283,"t":"TECH"}]},"mark":{"type":"text","dy":3,"font":"DejaVu Sans","fontWeight":"bold","fontSize":40,"color":"#0a0a0a"},"encoding":{"x":{"field":"d","type":"temporal"},"y":{"field":"v","type":"quantitative"},"text":{"field":"t"}}},
{"data":{"values":[{"d":"2023-10-13","v":0.07792,"t":"RALLIES"},{"d":"2023-10-13","v":0.07056,"t":"MARKETS"}]},"mark":{"type":"text","dy":2,"font":"DejaVu Sans","fontWeight":"bold","fontSize":24,"color":"#0a0a0a"},"encoding":{"x":{"field":"d","type":"temporal"},"y":{"field":"v","type":"quantitative"},"text":{"field":"t"}}},
{"data":{"values":[{"d":"2023-10-13","v":0.07414,"t":"AND BEAR"}]},"mark":{"type":"text","dy":1,"font":"DejaVu Sans","fontWeight":"bold","fontSize":22.5,"color":"#0a0a0a"},"encoding":{"x":{"field":"d","type":"temporal"},"y":{"field":"v","type":"quantitative"},"text":{"field":"t"}}},
{"data":{"values":[{"d":"2024-07-18","v":0.04311,"t":"CCM MARKET"},{"d":"2024-07-18","v":0.04233,"t":"MODEL"}]},"mark":{"type":"text","font":"DejaVu Sans","fontWeight":"bold","fontSize":7.5,"color":"#111111"},"encoding":{"x":{"field":"d","type":"temporal"},"y":{"field":"v","type":"quantitative"},"text":{"field":"t"}}},
{"data":{"values":[{"d":"2024-01-21","v":0.04361,"t":"01"},{"d":"2024-01-21","v":0.04184,"t":"00"}]},"mark":{"type":"text","font":"DejaVu Sans Mono","fontSize":16,"color":"#2fae68"},"encoding":{"x":{"field":"d","type":"temporal"},"y":{"field":"v","type":"quantitative"},"text":{"field":"t"}}},
{"data":{"values":[{"d":"2024-03-14","v":0.04347,"t":"11"},{"d":"2024-03-14","v":0.04205,"t":"10"}]},"mark":{"type":"text","font":"DejaVu Sans Mono","fontSize":11,"color":"#2fae68"},"encoding":{"x":{"field":"d","type":"temporal"},"y":{"field":"v","type":"quantitative"},"text":{"field":"t"}}},
{"data":{"values":[{"d":"2023-11-04","v":0.03839,"t":"CIOVACCO"}]},"mark":{"type":"text","font":"Liberation Serif","fontWeight":"bold","fontSize":15,"color":"#111111"},"encoding":{"x":{"field":"d","type":"temporal"},"y":{"field":"v","type":"quantitative"},"text":{"field":"t"}}},
{"data":{"values":[{"d":"2023-11-04","v":0.03752,"t":"CAPITAL MANAGEMENT"}]},"mark":{"type":"text","font":"Liberation Serif","fontWeight":"bold","fontSize":7.5,"color":"#111111"},"encoding":{"x":{"field":"d","type":"temporal"},"y":{"field":"v","type":"quantitative"},"text":{"field":"t"}}},
{"data":{"values":[{"d":"2024-09-26","v":0.03936,"t":"SECULAR  VOLATILITY"},{"d":"2024-09-26","v":0.03654,"t":"MODEL"}]},"mark":{"type":"text","font":"Liberation Sans","fontWeight":"bold","fontSize":8,"color":"#111111"},"encoding":{"x":{"field":"d","type":"temporal"},"y":{"field":"v","type":"quantitative"},"text":{"field":"t"}}},
{"data":{"values":[{"d":"2024-09-26","v":0.03789,"t":"SVM"}]},"mark":{"type":"text","dy":2,"font":"DejaVu Sans","fontWeight":"bold","fontSize":30,"color":"#0a0a0a"},"encoding":{"x":{"field":"d","type":"temporal"},"y":{"field":"v","type":"quantitative"},"text":{"field":"t"}}}
]}
